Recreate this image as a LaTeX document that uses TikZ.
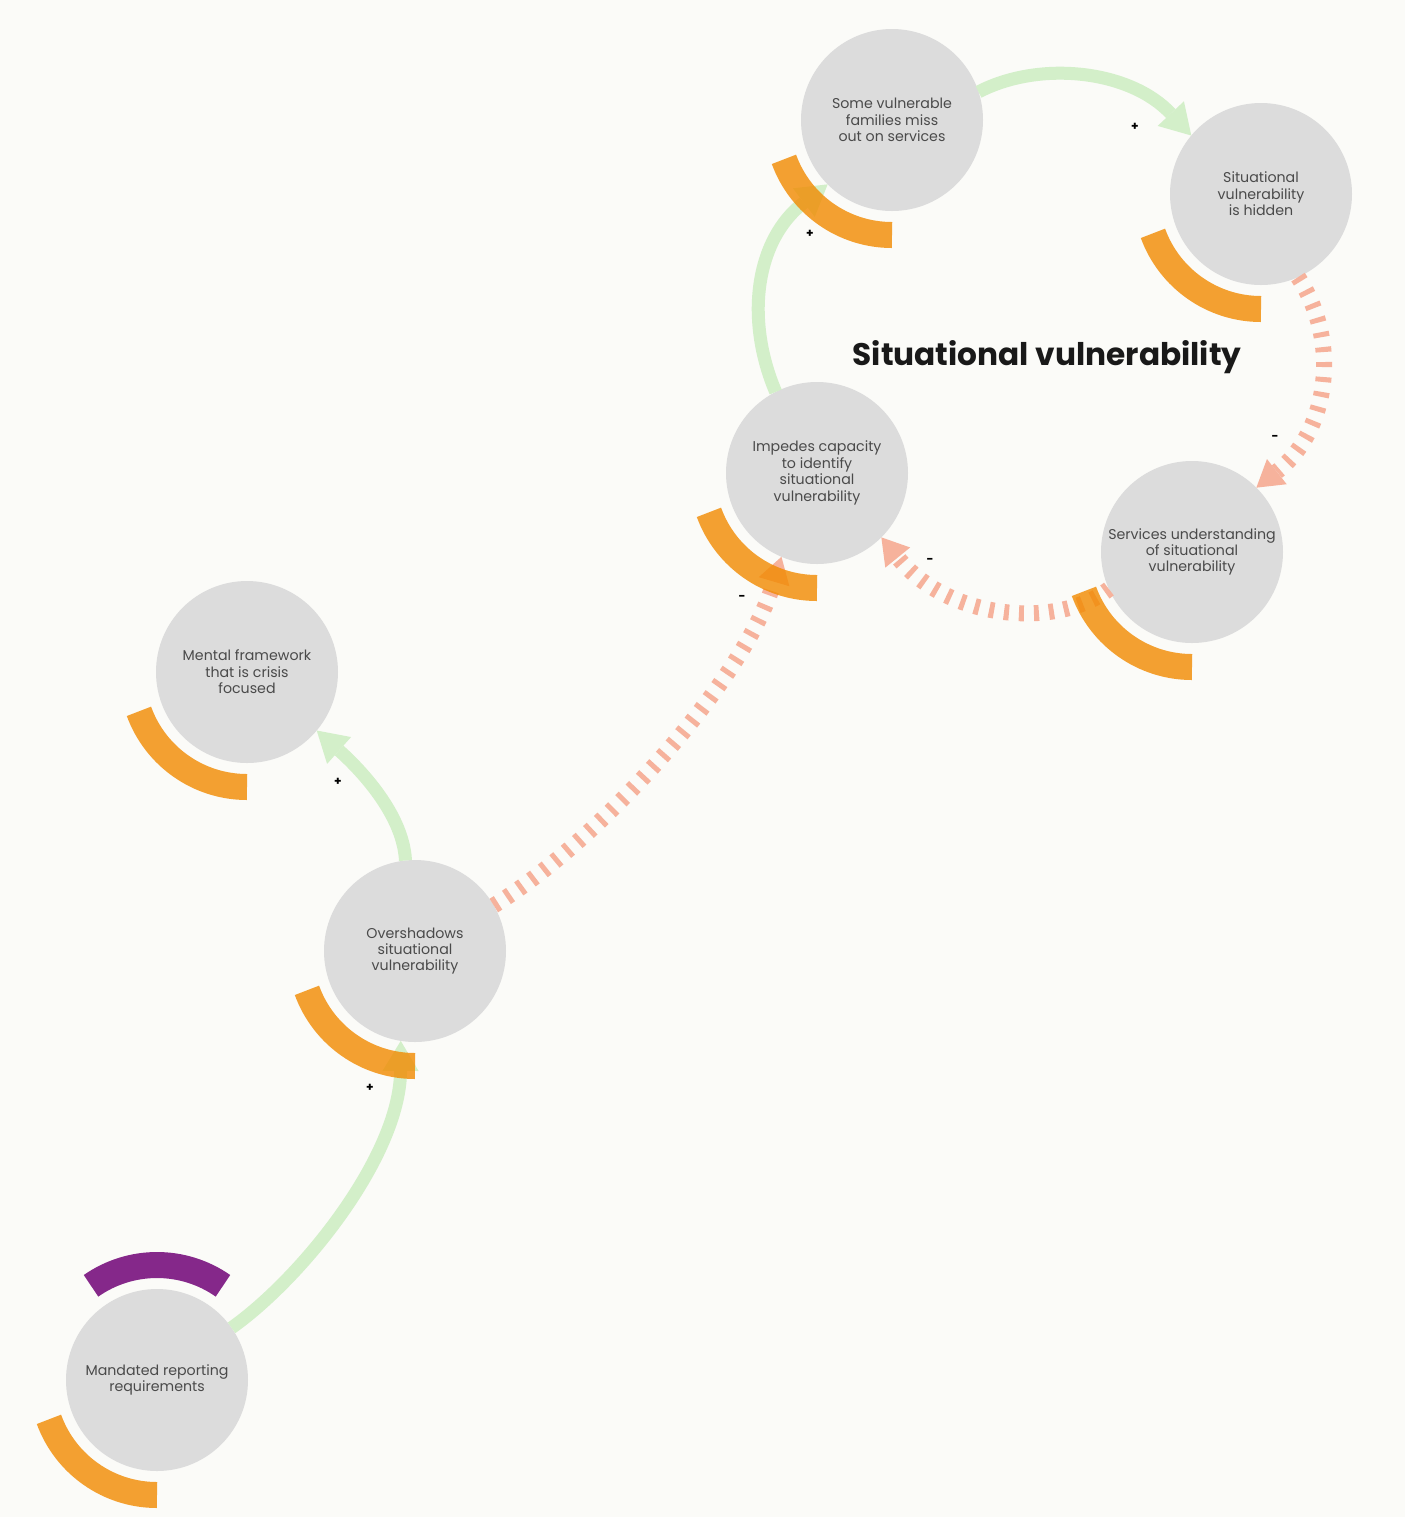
\documentclass[tikz,border=0pt]{standalone}
\usepackage{fontspec}
\setmainfont{Poppins}
\usepackage{tikz}
\usetikzlibrary{arrows.meta,positioning,calc}
\definecolor{paper}  {HTML}{FBFBF8}
\definecolor{disc}   {HTML}{DCDCDC}
\definecolor{ink}    {HTML}{4A4A4A}
\definecolor{amber}  {HTML}{F28A00}
\definecolor{plum}   {HTML}{85288A}
\definecolor{mint}   {HTML}{D3EFC9}
\definecolor{salmon} {HTML}{F6B29C}

\tikzset{
  factor/.style={circle, fill=disc, minimum size=91pt, inner sep=0pt,
    outer sep=0pt, text=ink, align=center,
    font=\fontsize{7.1}{8.2}\selectfont},
  ring/.style={draw=amber, line width=13pt, draw opacity=.8},
  reinforce/.style={draw=mint, line width=6.5pt,
    -{Triangle[length=15pt,width=18pt,line width=0pt]}},
  balance/.style={draw=salmon, line width=8pt,
    dash pattern=on 2.5pt off 5pt, -{Triangle[length=13pt,width=16pt,line width=0pt]}},
  sign/.style={text=black, inner sep=0pt, font=\bfseries\fontsize{6}{6}\selectfont}
}

\begin{document}
\begin{tikzpicture}[x=0.5pt, y=0.5pt]
  \path[use as bounding box, fill=paper] (0,0) rectangle (1405,-1517);

  % factors
  \node[factor] (missout)       at (892,-120)  {Some vulnerable\\families miss\\out on services};
  \node[factor] (hidden)        at (1261,-194) {Situational\\vulnerability\\is hidden};
  \node[factor] (impedes)       at (817,-473)  {Impedes capacity\\to identify\\situational\\vulnerability};
  \node[factor] (understanding) at (1192,-552) {Services understanding\\of situational\\vulnerability};
  \node[factor] (mental)        at (247,-672)  {Mental framework\\that is crisis\\focused};
  \node[factor] (overshadows)   at (415,-951)  {Overshadows\\situational\\vulnerability};
  \node[factor] (mandated)      at (157,-1380) {Mandated reporting\\requirements};

  \node[font=\bfseries\fontsize{15.6}{17}\selectfont, text=black!90] (title)
    at (1047,-357) {Situational vulnerability};

  % links
  \draw[reinforce] (mandated.35) .. controls (302,-1278) and (400,-1156) .. (overshadows.261);
  \draw[reinforce] (overshadows.96) .. controls (403,-810) and (352,-762) .. (mental.320);
  \draw[balance] (overshadows.30) .. controls (600,-840) and (745,-680) .. (impedes.247);
  \draw[reinforce] (impedes.117) .. controls (745,-320) and (755,-240) .. (missout.225);
  \draw[reinforce] (missout.18) .. controls (1040,-60) and (1130,-70) .. (hidden.140);
  \draw[balance] (hidden.294) .. controls (1340,-340) and (1330,-430) .. (understanding.45);
  \draw[balance] (understanding.204) .. controls (1060,-628) and (950,-622) .. (impedes.-45);

  % rings
  \foreach \n in {missout,hidden,impedes,understanding,mental,overshadows,mandated}
    \draw[ring] (\n.center) ++(200:115) arc[start angle=200, end angle=270, radius=115];
  \draw[ring, draw=plum, draw opacity=1] (mandated.center) ++(55:115) arc[start angle=55, end angle=125, radius=115];

  % polarity
  \node[sign] (s1) at (370,-1088) {+};
  \node[sign] (s2) at (338,-782)  {+};
  \node[sign] (s3) at (742,-598)  {-};
  \node[sign] (s4) at (810,-234)  {+};
  \node[sign] (s5) at (1135,-127) {+};
  \node[sign] (s6) at (1275,-438) {-};
  \node[sign] (s7) at (930,-561)  {-};
\end{tikzpicture}
\end{document}
